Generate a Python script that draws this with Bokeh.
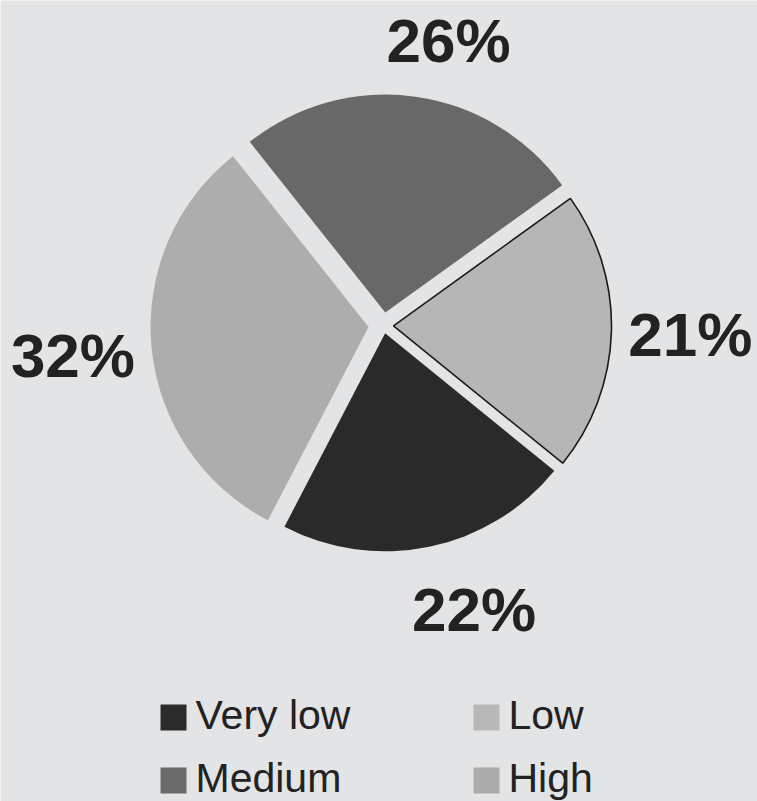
import math
import re
from bokeh.plotting import figure
from bokeh.models import Range1d, ColumnDataSource
from bokeh.embed import file_html
from bokeh.resources import INLINE
from bokeh.core.properties import value

# ---- data ----
categories = ["Very low", "Low", "Medium", "High"]
percents = [22, 21, 26, 32]
labels = ["22%", "21%", "26%", "32%"]

# ---- style ----
slice_colors = ["#2a2a2a", "#b6b6b6", "#686868", "#adadad"]
legend_colors = ["#2b2b2b", "#b8b8b8", "#6b6b6b", "#ababab"]
outline_alpha = [0.0, 1.0, 0.0, 0.0]
explode = [8, 10, 13, 15]
label_r = [298, 307, 292, 312]
label_dang = [6, 0, -5, 0]
BG = "#e3e4e6"
TXT = "#222222"
FONT = "Liberation Sans"

W, H = 757, 801
CX, CY = 383, 325          # page position of pie centre
R = 218
START = math.radians(-117.5)

p = figure(width=W, height=H, output_backend="svg", toolbar_location=None,
           tools="", x_axis_type=None, y_axis_type=None, min_border=0,
           x_range=Range1d(0 - CX, W - CX),
           y_range=Range1d(CY - H, CY))
p.grid.visible = False
p.outline_line_color = None
p.background_fill_color = BG
p.border_fill_color = BG

total = float(sum(percents))
starts, ends, xs, ys, lx, ly = [], [], [], [], [], []
a = START
for i, v in enumerate(percents):
    span = v / total * 2 * math.pi
    s, e = a, a + span
    mid = (s + e) / 2
    starts.append(s)
    ends.append(e)
    xs.append(explode[i] * math.cos(mid))
    ys.append(explode[i] * math.sin(mid))
    la = mid + math.radians(label_dang[i])
    lx.append(label_r[i] * math.cos(la))
    ly.append(label_r[i] * math.sin(la))
    a = e

src = ColumnDataSource(dict(x=xs, y=ys, start=starts, end=ends,
                            color=slice_colors, la=outline_alpha,
                            cat=categories))
p.wedge(x="x", y="y", radius=R, start_angle="start", end_angle="end",
        fill_color="color", line_color="#1a1a1a", line_alpha="la",
        line_width=1.6, source=src)

p.text(x=lx, y=ly, text=labels, text_font=value(FONT),
       text_font_style="bold", text_font_size="62px", text_align="center",
       text_baseline="middle", text_color=TXT)

# ---- legend (2 columns) ----
col_left = [160, 473]
row_mid = [717, 780]
sq = 26
gx, gy, tx, ty = [], [], [], []
for i, c in enumerate(categories):
    col, row = i % 2, i // 2
    gx.append(col_left[col] + sq / 2 - CX)
    gy.append(CY - row_mid[row])
    tx.append(col_left[col] + sq + 9 - CX)
    ty.append(CY - (row_mid[row] - 3))
p.rect(x=gx, y=gy, width=sq, height=sq, fill_color=legend_colors,
       line_color=None)
p.text(x=tx, y=ty, text=categories, text_font=value(FONT),
       text_font_size="41px", text_align="left",
       text_baseline="middle", text_color=TXT)

html = file_html(p, INLINE)
html = re.sub(r"<body([^>]*)>", r'<body\1 style="background-color:%s;">' % BG,
              html, count=1)
open("out.html", "w").write(html)
